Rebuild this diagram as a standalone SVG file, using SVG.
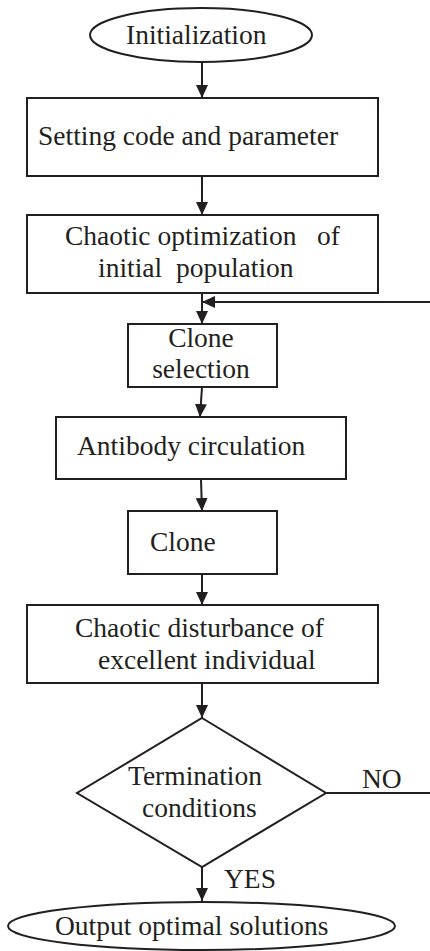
<svg xmlns="http://www.w3.org/2000/svg" width="430" height="951" viewBox="0 0 430 951" font-family="'Liberation Serif', Tinos, 'Times New Roman', 'DejaVu Serif', serif">
<style>
.n{fill:#fff;stroke:#231f20;stroke-width:2}
.c{fill:none;stroke:#231f20;stroke-width:2}
text{font-family:'Liberation Serif',Tinos,'Times New Roman','DejaVu Serif',serif;font-size:27.5px;fill:#231f20}
</style>
<defs>
<marker id="ah" markerUnits="userSpaceOnUse" markerWidth="13" markerHeight="12" refX="13" refY="6" orient="auto">
<path d="M0,0 L13,6 L0,12 Z" fill="#231f20"/>
</marker>
</defs>
<rect width="430" height="951" fill="#fff"/>
<g id="connectors">
<line class="c" x1="202" y1="62" x2="202" y2="98" marker-end="url(#ah)"/>
<line class="c" x1="202" y1="176" x2="202" y2="215" marker-end="url(#ah)"/>
<line class="c" x1="202" y1="293" x2="202" y2="324" marker-end="url(#ah)"/>
<line class="c" x1="430" y1="302" x2="202" y2="302" marker-end="url(#ah)"/>
<line class="c" x1="202" y1="387" x2="200" y2="417" marker-end="url(#ah)"/>
<line class="c" x1="201" y1="479" x2="202" y2="511" marker-end="url(#ah)"/>
<line class="c" x1="202" y1="574" x2="202" y2="605" marker-end="url(#ah)"/>
<line class="c" x1="202" y1="683" x2="202" y2="718" marker-end="url(#ah)"/>
<line class="c" x1="326" y1="793" x2="430" y2="793"/>
<line class="c" x1="202" y1="867" x2="202" y2="901" marker-end="url(#ah)"/>
<text x="362" y="788">NO</text>
<text x="224" y="888">YES</text>
</g>
<g id="init">
<ellipse class="n" cx="201" cy="35" rx="111" ry="27"/>
<text x="126" y="44">Initialization</text>
</g>
<g id="setting">
<rect class="n" x="27" y="98" width="351" height="78"/>
<text x="38" y="145">Setting code and parameter</text>
</g>
<g id="chaoticOpt">
<rect class="n" x="27" y="215" width="351" height="78"/>
<text x="65" y="245" xml:space="preserve">Chaotic optimization   of</text>
<text x="98" y="277" xml:space="preserve">initial  population</text>
</g>
<g id="cloneSelection">
<rect class="n" x="128" y="324" width="149" height="63"/>
<text x="201" y="347" text-anchor="middle">Clone</text>
<text x="201" y="378" text-anchor="middle">selection</text>
</g>
<g id="antibody">
<rect class="n" x="56" y="417" width="290" height="62"/>
<text x="77" y="455">Antibody circulation</text>
</g>
<g id="clone">
<rect class="n" x="128" y="511" width="149" height="63"/>
<text x="150" y="551">Clone</text>
</g>
<g id="disturbance">
<rect class="n" x="27" y="605" width="351" height="78"/>
<text x="75" y="637">Chaotic disturbance of</text>
<text x="98" y="669">excellent individual</text>
</g>
<g id="termination">
<polygon class="n" points="202,718 326,793 202,867 77,793"/>
<text x="128" y="785">Termination</text>
<text x="142" y="817">conditions</text>
</g>
<g id="output">
<ellipse class="n" cx="201.5" cy="926" rx="193.5" ry="24"/>
<text x="55" y="935">Output optimal solutions</text>
</g>
</svg>
